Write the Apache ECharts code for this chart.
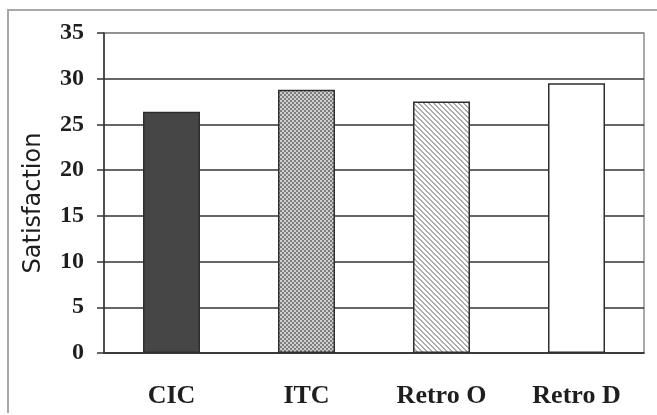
<!DOCTYPE html>
<html>
<head>
<meta charset="utf-8">
<script src="https://cdn.jsdelivr.net/npm/echarts@6/dist/echarts.min.js"></script>
<style>
  html, body { margin: 0; padding: 0; background: #fff; }
  #chart { width: 657px; height: 415px; }
</style>
</head>
<body>
<div id="chart"></div>
<script>
var categories = ["CIC", "ITC", "Retro O", "Retro D"];
var satisfaction = [26.4, 28.8, 27.5, 29.5];

// little canvas textures for the bar fills
function makePattern(size, paint) {
  var c = document.createElement("canvas");
  c.width = size;
  c.height = size;
  var ctx = c.getContext("2d");
  for (var x = 0; x < size; x++) {
    for (var y = 0; y < size; y++) {
      ctx.fillStyle = paint(x, y);
      ctx.fillRect(x, y, 1, 1);
    }
  }
  return { image: c, repeat: "repeat" };
}

var checker = makePattern(4, function (x, y) {
  return (Math.floor(x / 2) + Math.floor(y / 2)) % 2 ? "#7e7e7e" : "#cfcfcf";
});
var hatch = makePattern(5, function (x, y) {
  var d = (((x - y) % 5) + 5) % 5;
  return d < 2 ? "#acacac" : "#ffffff";
});

var fills = ["#464646", checker, hatch, "#ffffff"];

var chartDom = document.getElementById("chart");
var myChart = echarts.init(chartDom);
var option;

option = {
  backgroundColor: "#fff",
  animation: false,
  grid: {
    left: 104,
    right: 13,
    top: 33,
    bottom: 62,
    show: true,
    borderColor: "#8c8c8c",
    borderWidth: 1.5,
  },
  xAxis: {
    type: "category",
    data: categories,
    axisLine: { lineStyle: { color: "#333", width: 1.5 } },
    axisTick: { length: 9, lineStyle: { color: "#333", width: 1.5 } },
    axisLabel: {
      margin: 30,
      color: "#1e1e1e",
      fontFamily: "Liberation Serif",
      fontWeight: "bold",
      fontSize: 26,
    },
  },
  yAxis: {
    type: "value",
    min: 0,
    max: 35,
    interval: 5,
    name: "Satisfaction",
    nameLocation: "middle",
    nameGap: 58,
    nameTextStyle: {
      color: "#1e1e1e",
      fontFamily: "DejaVu Sans",
      fontSize: 24,
      padding: [0, 20, 0, 0],
    },
    axisLine: { show: true, lineStyle: { color: "#333", width: 1.5 } },
    axisTick: { show: true, length: 7, lineStyle: { color: "#333", width: 1.5 } },
    axisLabel: {
      margin: 20,
      color: "#1e1e1e",
      fontFamily: "Liberation Serif",
      fontWeight: "bold",
      fontSize: 24,
    },
    splitLine: {
      lineStyle: {
        color: ["#333", "#333", "#333", "#333", "#333", "#333", "#333", "#8c8c8c"],
        width: 1.5,
      },
    },
  },
  graphic: [
    {
      type: "polyline",
      shape: { points: [[8, 413], [8, 10], [660, 10]] },
      style: { stroke: "#a8a8a8", lineWidth: 2, fill: null },
      silent: true,
    },
  ],
  series: [
    {
      type: "bar",
      barWidth: 57,
      data: satisfaction.map(function (v, i) {
        return {
          value: v,
          itemStyle: { color: fills[i], borderColor: "#2e2e2e", borderWidth: 1.5 },
        };
      }),
    },
  ],
};

option && myChart.setOption(option);
</script>
</body>
</html>
